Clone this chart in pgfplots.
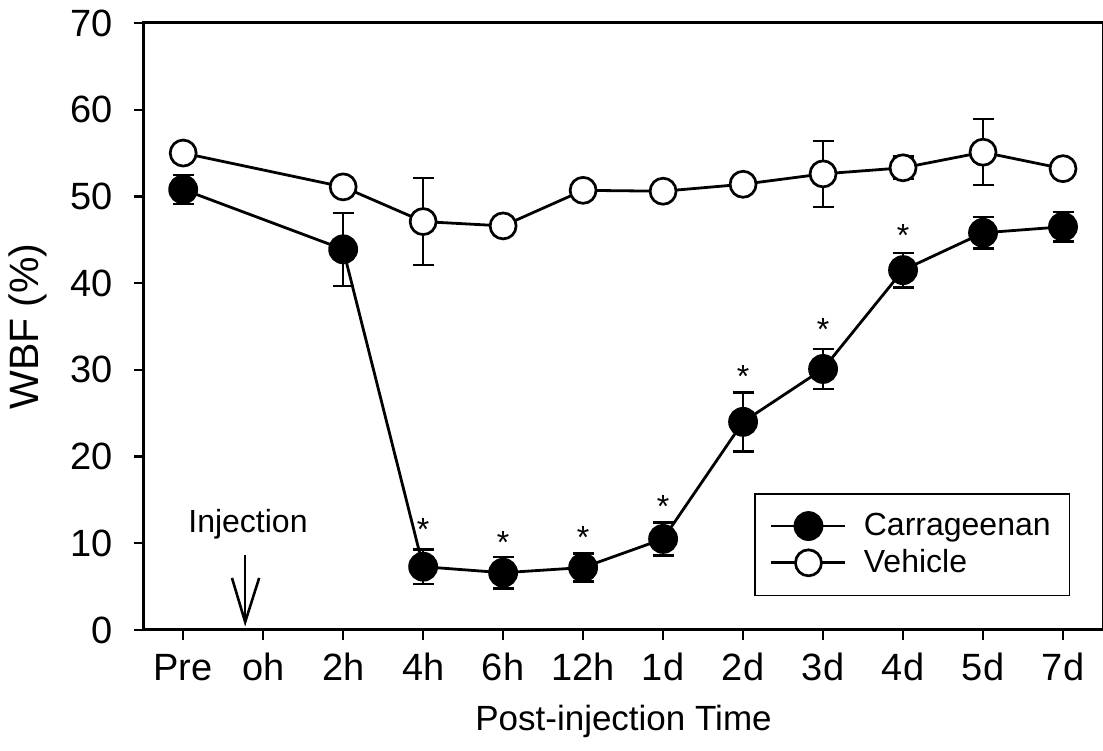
\documentclass[border=0pt]{standalone}
\usepackage{fontspec}
\setmainfont{Liberation Sans}
\usepackage{pgfplots}
\usepackage{pgfplotstable}
\pgfplotsset{compat=1.18}
\pgfplotstableread{
x y ey
0 50.8 1.7
2 43.9 4.2
3 7.3 2.0
4 6.6 1.8
5 7.2 1.6
6 10.5 1.9
7 24.0 3.4
8 30.1 2.3
9 41.5 2.0
10 45.8 1.8
11 46.5 1.7
}\carr
\pgfplotstableread{
x y ey
0 55.0 0
2 51.1 0
3 47.1 5.0
4 46.6 0
5 50.7 0
6 50.6 0
7 51.4 0
8 52.6 3.8
9 53.3 1.3
10 55.1 3.8
11 53.2 0
}\vehi
\pgfplotstableread{
x y
3 12.2
4 10.7
5 11.3
6 14.8
7 29.8
8 35.2
9 46.1
}\stars
\begin{document}
\begin{tikzpicture}
\begin{axis}[
 name=ax,
 scale only axis, width=479.5pt, height=303.5pt,
 xmin=-0.49, xmax=11.5, ymin=0, ymax=70,
 xtick={0,...,11},
 xticklabels={Pre,oh,2h,4h,6h,12h,1d,2d,3d,4d,5d,7d},
 ytick={0,10,...,70},
 tick align=outside, xtick pos=bottom, ytick pos=left,
 major tick length=5pt,
 every tick/.style={black, line width=1.2pt},
 axis line style={line width=1.5pt},
 tick label style={font=\fontsize{19}{22}\selectfont},
 /pgf/number format/assume math mode=true,
 yticklabel style={xshift=-7pt},
 xticklabel style={yshift=-3pt, text height=13.6pt, text depth=0pt},
 xlabel={Post-injection Time}, ylabel={WBF (\%)},
 xlabel style={font=\fontsize{17.5}{20}\selectfont, at={(axis description cs:0.5,0)}, anchor=center, yshift=-45.5pt},
 ylabel style={font=\fontsize{20.5}{24}\selectfont, at={(axis description cs:0,0.5)}, anchor=center, yshift=58pt},
 legend style={at={(axis cs:7.14,15.8)}, anchor=north west, draw=black, line width=0.8pt,
   font=\fontsize{16}{18}\selectfont, inner xsep=7.5pt, inner ysep=7.8pt, row sep=1.5pt, cells={anchor=west},
   /tikz/column 1/.style={column sep=6.5pt}},
 legend image code/.code={\draw[#1, mark repeat=2, mark phase=2] plot coordinates {(0,0) (18.5pt,0) (37pt,0)};},
 error bars/y dir=both, error bars/y explicit,
 error bars/error mark options={rotate=90, mark size=5.25pt, line width=1.2pt},
 error bars/error bar style={line width=1.2pt},
]
\addplot[black, line width=1.4pt, mark=*, mark size=6.75pt, mark options={fill=black}]
  table[x=x, y=y, y error=ey] {\carr};
\addlegendentry{Carrageenan}
\addplot[black, line width=1.4pt, mark=*, mark size=6.5pt, mark options={fill=white, line width=1.35pt}]
  table[x=x, y=y, y error=ey] {\vehi};
\addlegendentry{Vehicle}
\addplot[only marks, mark=none, forget plot, nodes near coords={*}, every node near coord/.style={font=\fontsize{16}{18}\selectfont, anchor=center, yshift=-2.5pt}]
  table[x=x, y=y] {\stars};
\node[font=\fontsize{16}{18}\selectfont] at (axis cs:0.81,12.2) {Injection};
\draw[line width=1.3pt] (axis cs:0.775,8.65) -- (axis cs:0.775,0.92);
\draw[line width=1.3pt] (axis cs:0.61,6.0) -- (axis cs:0.775,0.92) -- (axis cs:0.95,6.0);
\end{axis}
\pgfresetboundingbox
\path[use as bounding box] ([xshift=-72pt,yshift=-60.5pt]ax.south west) rectangle ([yshift=11.5pt]ax.north east);
\end{tikzpicture}
\end{document}
